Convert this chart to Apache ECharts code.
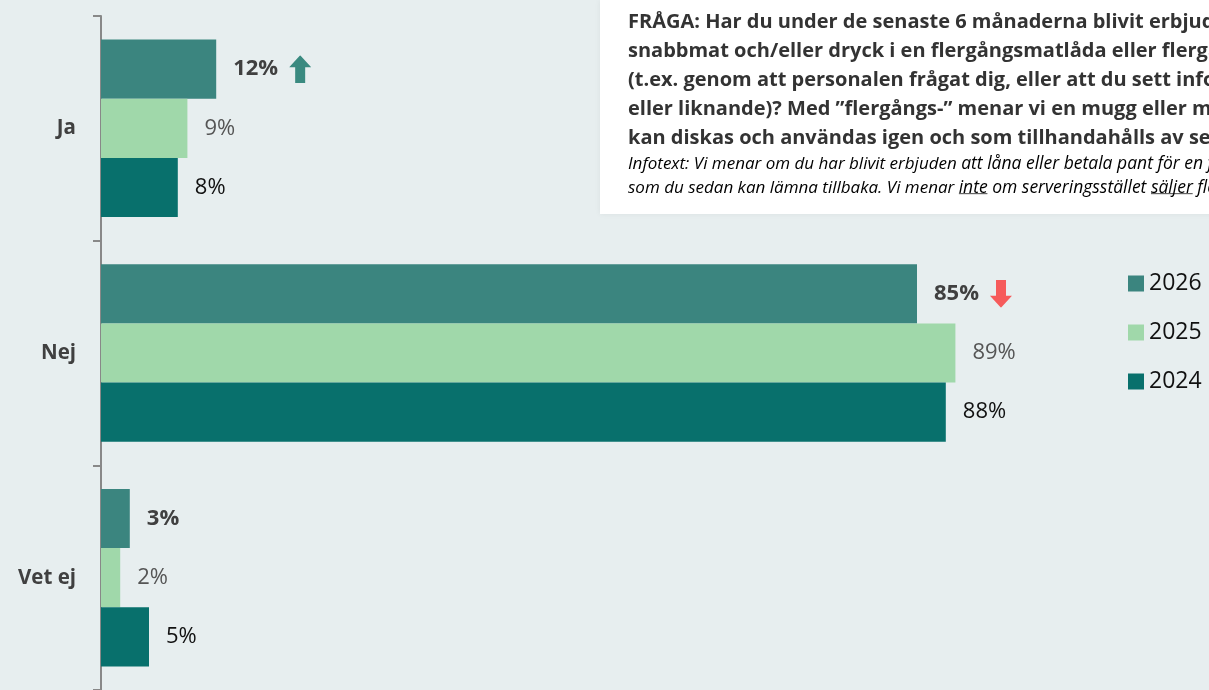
<!DOCTYPE html>
<html>
<head>
<meta charset="utf-8">
<script src="https://cdn.jsdelivr.net/npm/echarts@6/dist/echarts.min.js"></script>
<style>
  html, body { margin: 0; padding: 0; background: #e7eeef; }
  #chart { width: 1209px; height: 690px; }
</style>
</head>
<body>
<div id="chart"></div>
<script>
// 数据
const categories = ['Ja', 'Nej', 'Vet ej'];
const years = ['2026', '2025', '2024'];
const values2026 = [12, 85, 3];
const values2025 = [9, 89, 2];
const values2024 = [8, 88, 5];
const trend2026 = ['up', 'down', '']; // 箭头

const colors = ['#3b857f', '#a0d8aa', '#08706c'];

// 箭头图片
function arrowSvg(dir, fill) {
    const pts = dir === 'up'
        ? '11,0 22,12 16,12 16,28 6,28 6,12 0,12'
        : '6,0 16,0 16,16 22,16 11,28 0,16 6,16';
    const svg = '<svg xmlns="http://www.w3.org/2000/svg" width="22" height="28"><polygon points="' + pts + '" fill="' + fill + '"/></svg>';
    return 'data:image/svg+xml;charset=utf-8,' + encodeURIComponent(svg);
}

// 下划线背景（很窄的图片，拉伸到文字宽度）
const underlineSvg = 'data:image/svg+xml;charset=utf-8,' + encodeURIComponent(
    '<svg xmlns="http://www.w3.org/2000/svg" width="1" height="24" viewBox="0 0 1 24" preserveAspectRatio="none">' +
    '<rect x="0" y="19" width="1" height="1.2" fill="#333"/></svg>');

const chart = echarts.init(document.getElementById('chart'));

const font = '"Open Sans", "Noto Sans", sans-serif';

function barSeries(name, data, color, label) {
    return {
        name: name,
        type: 'bar',
        data: data,
        barGap: '0%',
        barCategoryGap: '21%',
        itemStyle: { color: color },
        label: Object.assign({
            show: true,
            position: 'right',
            distance: 17,
            fontFamily: font,
            fontSize: 22
        }, label),
        emphasis: { disabled: true }
    };
}

const infoA = { fontFamily: font, fontSize: 17, fontStyle: 'italic', lineHeight: 24, color: '#7a7a7a' };
const infoB = { fontFamily: font, fontSize: 17.5, fontStyle: 'italic', lineHeight: 24, color: '#333' };

const option = {
    backgroundColor: '#e7eeef',
    animation: false,
    grid: { left: 101, top: 16, bottom: 0, width: 960 },
    xAxis: {
        type: 'value',
        min: 0,
        max: 100,
        show: false
    },
    yAxis: {
        type: 'category',
        data: categories,
        inverse: true,
        axisLine: { lineStyle: { color: '#888', width: 2 } },
        axisTick: { show: true, length: 8, lineStyle: { color: '#888', width: 2 } },
        axisLabel: {
            margin: 25,
            fontFamily: font,
            fontSize: 20.5,
            fontWeight: 'bold',
            color: '#404040'
        }
    },
    legend: {
        orient: 'vertical',
        left: 1128,
        top: 272,
        padding: 0,
        itemWidth: 16,
        itemHeight: 16,
        itemGap: 26,
        icon: 'rect',
        data: years,
        textStyle: { fontFamily: font, fontSize: 23, lineHeight: 23, color: '#111' }
    },
    series: [
        barSeries('2026', values2026, colors[0], {
            formatter: function (p) {
                const t = trend2026[p.dataIndex];
                return '{b|' + p.value + '%}' + (t ? '{sp|}{' + t + '|}' : '');
            },
            rich: {
                b: { fontFamily: font, fontSize: 22, fontWeight: 'bold', color: '#404040' },
                sp: { width: 11 },
                up: { width: 22, height: 28, backgroundColor: { image: arrowSvg('up', '#3a8a80') } },
                down: { width: 22, height: 28, backgroundColor: { image: arrowSvg('down', '#f65b5b') } }
            }
        }),
        barSeries('2025', values2025, colors[1], {
            formatter: '{c}%',
            color: '#555'
        }),
        barSeries('2024', values2024, colors[2], {
            formatter: '{c}%',
            color: '#111'
        })
    ],
    graphic: [
        {
            type: 'rect',
            left: 600,
            top: 0,
            shape: { width: 620, height: 214 },
            style: { fill: '#ffffff', shadowBlur: 6, shadowColor: 'rgba(0,0,0,0.06)' },
            z: 10
        },
        {
            type: 'text',
            left: 628,
            top: 8,
            z: 11,
            style: {
                text: 'FRÅGA: Har du under de senaste 6 månaderna blivit erbjuden att få din\n' +
                      'snabbmat och/eller dryck i en flergångsmatlåda eller flergångsmugg\n' +
                      '(t.ex. genom att personalen frågat dig, eller att du sett information på en skylt\n' +
                      'eller liknande)? Med ”flergångs-” menar vi en mugg eller matlåda som\n' +
                      'kan diskas och användas igen och som tillhandahålls av serveringsstället?',
                fontFamily: font,
                fontSize: 20,
                fontWeight: 'bold',
                lineHeight: 29,
                fill: '#333'
            }
        },
        {
            type: 'text',
            left: 628,
            top: 152,
            z: 11,
            style: Object.assign({
                text: '{a|Infotext: Vi menar om du har blivit erbjuden }{b|att låna eller betala pant för en flergångsmugg/matlåda}\n' +
                      '{a|som du sedan kan lämna tillbaka. Vi menar }{u|inte}{b| om serveringsstället }{u|säljer}{b| flergångsmuggar.}',
                rich: {
                    a: infoA,
                    b: infoB,
                    u: Object.assign({}, infoB, { backgroundColor: { image: underlineSvg } })
                }
            }, infoB)
        }
    ]
};

chart.setOption(option);
</script>
</body>
</html>
